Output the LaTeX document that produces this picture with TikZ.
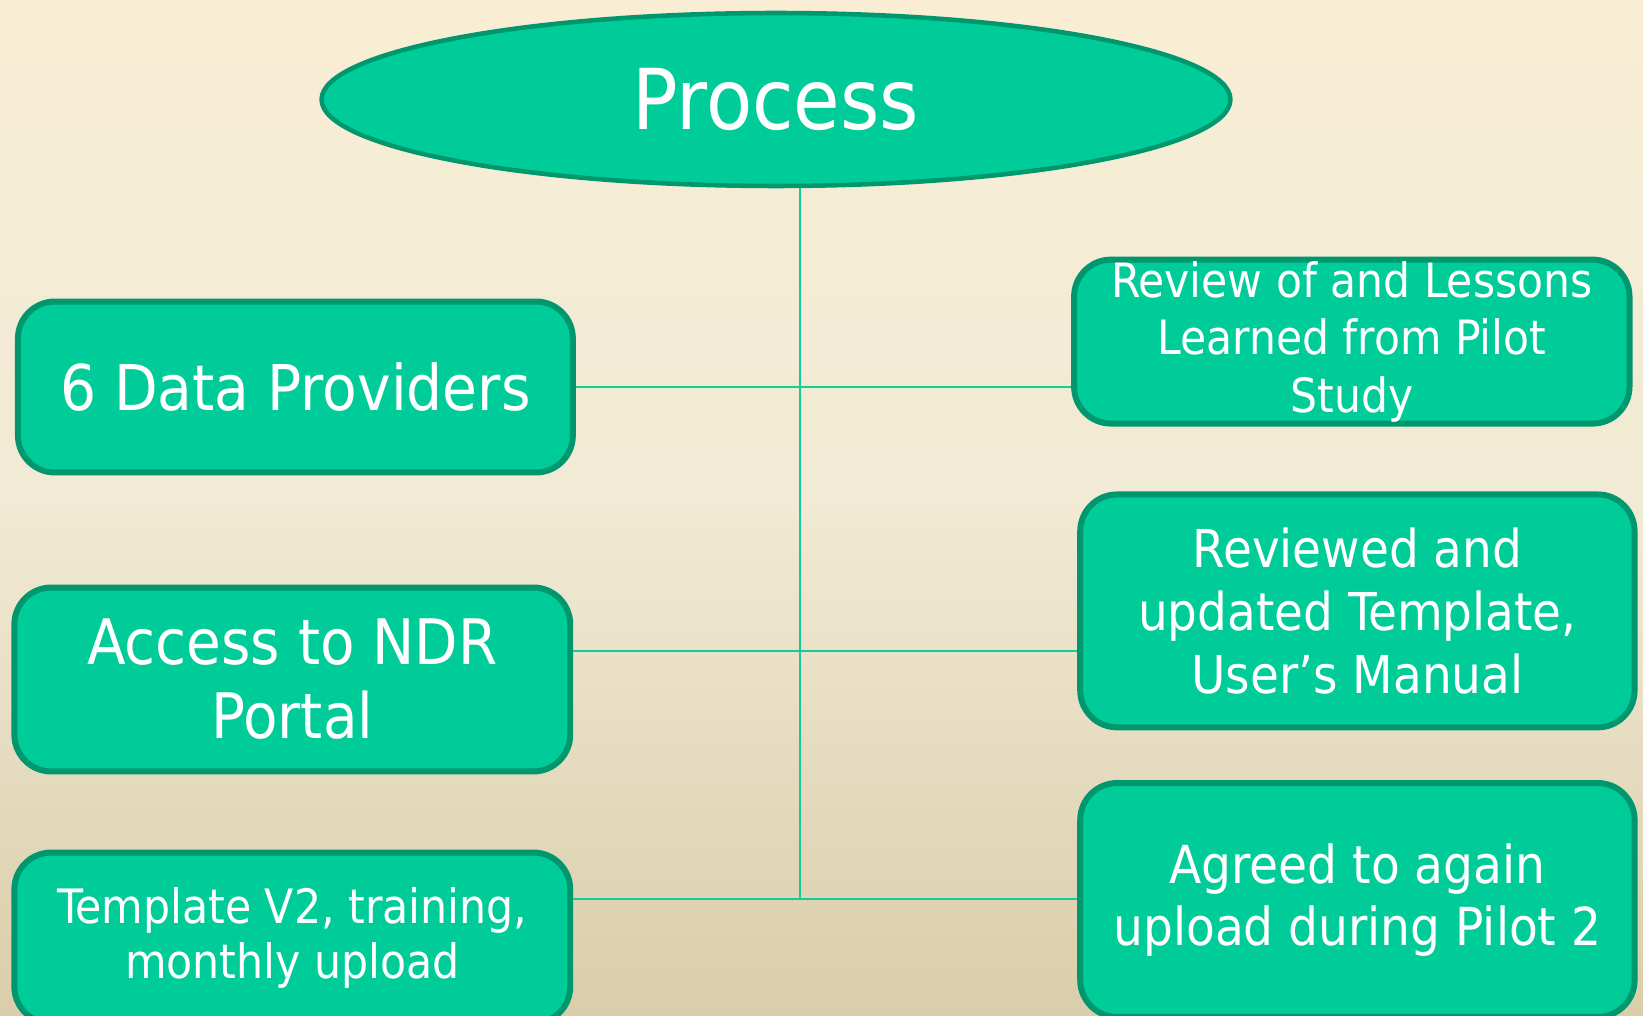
\documentclass[tikz,border=0pt]{standalone}
\usepackage{fontspec}
\setmainfont{DejaVu Sans Condensed}
\usetikzlibrary{shapes.geometric}
\definecolor{boxfill}{RGB}{0,204,153}
\definecolor{boxedge}{RGB}{0,150,110}
\definecolor{linkcol}{RGB}{20,204,153}
\definecolor{bgtop}{RGB}{249,238,212}
\definecolor{bgup}{RGB}{244,236,213}
\definecolor{bgmid}{RGB}{241,234,212}
\definecolor{bglow}{RGB}{228,218,190}
\definecolor{bgbot}{RGB}{218,205,170}
\pgfdeclareverticalshading{bgshade}{100bp}{color(0bp)=(bgbot); color(25bp)=(bgbot); color(36.6bp)=(bglow); color(50.4bp)=(bgmid); color(62.7bp)=(bgup); color(75bp)=(bgtop); color(100bp)=(bgtop)}
\tikzset{
  box/.style={draw=boxedge, fill=boxfill, line width=3.4pt, rounded corners=21pt,
    text=white, align=center, inner sep=0pt},
  oval/.style={box, ellipse, sharp corners, line width=2.6pt},
  link/.style={draw=linkcol, line width=1.1pt}
}

\begin{document}
\begin{tikzpicture}[x=0.02cm,y=-0.02cm]
  \shade[shading=bgshade] (0,0) rectangle (1643,1016);
  \useasboundingbox (0,0) rectangle (1643,1016);

  \node[oval, minimum width=18.18cm, minimum height=3.46cm, font=\fontsize{47.8}{57}\selectfont] (proc) at (776,99.5) {Process};

  \node[box, minimum width=11.1cm, minimum height=3.42cm, font=\fontsize{35.9}{42}\selectfont] (prov) at (295.4,387) {6 Data Providers};
  \node[box, minimum width=11.12cm, minimum height=3.68cm, font=\fontsize{35.7}{42.2}\selectfont] (access) at (292.3,679.5) {Access to NDR\\Portal};
  \node[box, minimum width=11.12cm, minimum height=3.42cm, font=\fontsize{27}{31.5}\selectfont] (tmpl) at (292.3,938) {Template V2, training,\\monthly upload};

  \node[box, minimum width=11.11cm, minimum height=3.28cm, font=\fontsize{26.9}{32.7}\selectfont] (review) at (1351.8,341.6) {Review of and Lessons\\Learned from Pilot\\Study};
  \node[box, minimum width=11.09cm, minimum height=4.66cm, font=\fontsize{29.7}{36}\selectfont] (updated) at (1357.4,610.9) {Reviewed and\\updated Template,\\User’s Manual};
  \node[box, minimum width=11.09cm, minimum height=4.68cm, font=\fontsize{29.8}{35.6}\selectfont] (agreed) at (1357.4,900) {Agreed to again\\upload during Pilot 2};

  \coordinate (j2) at (800,650.7);
  \coordinate (j3) at (800,899);
  \draw[link] (proc.south -| j3) -- (j3);
  \draw[link] (prov.east) -- (prov.east -| review.west);
  \draw[link] (access.east |- j2) -- (updated.west |- j2);
  \draw[link] (tmpl.east |- j3) -- (agreed.west |- j3);
\end{tikzpicture}
\end{document}
